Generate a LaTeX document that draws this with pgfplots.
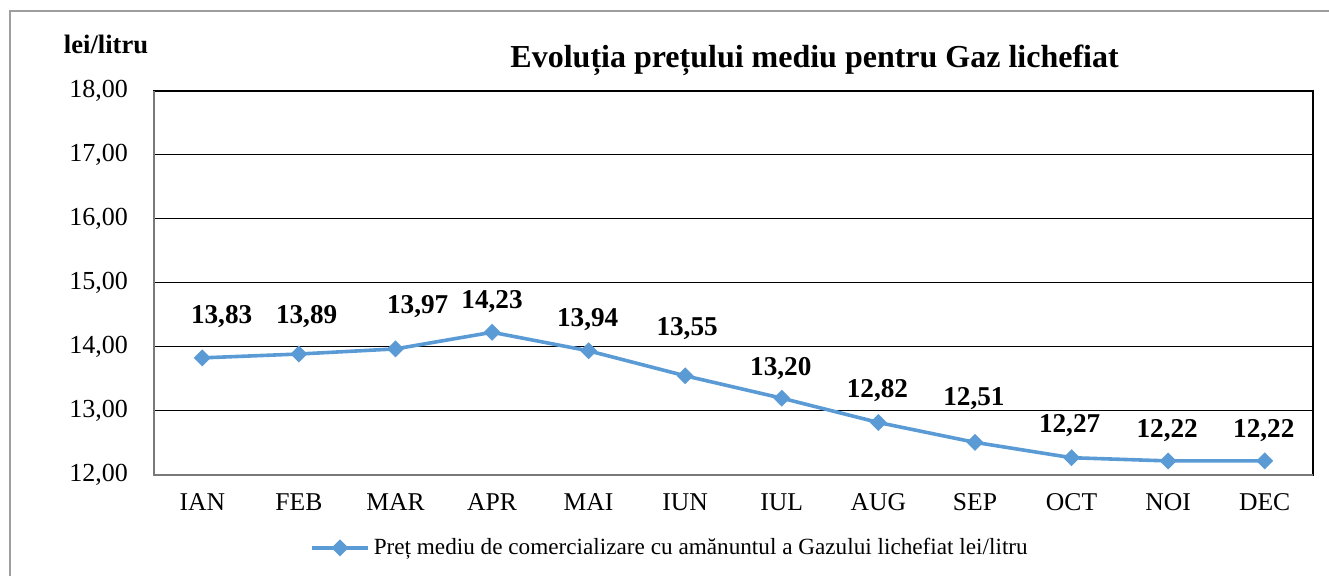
\documentclass[border=0pt]{standalone}
\usepackage{pgfplots}
\pgfplotsset{compat=1.18}
\usepackage{fontspec}
\setmainfont{Liberation Serif}
\definecolor{serieblue}{HTML}{5B9BD5}
\begin{document}
\begin{tikzpicture}
\begin{axis}[
  scale only axis,
  width=579.5pt, height=192pt,
  at={(0,0)}, anchor=south west,
  xmin=-0.5, xmax=11.5,
  ymin=12, ymax=18,
  xtick={0,...,11},
  xticklabels={IAN,FEB,MAR,APR,MAI,IUN,IUL,AUG,SEP,OCT,NOI,DEC},
  ytick={12,13,...,18},
  /pgf/number format/fixed,
  /pgf/number format/fixed zerofill,
  /pgf/number format/precision=2,
  /pgf/number format/use comma,
  /pgf/number format/assume math mode=true,
  yticklabel style={anchor=east, xshift=-9.5pt, font=\fontsize{13}{15}\selectfont},
  xticklabel style={anchor=center, yshift=-13.5pt, font=\fontsize{12.8}{15}\selectfont},
  major tick length=0pt,
  ymajorgrids,
  grid style={black, line width=0.5pt},
  axis line style={black, line width=0.6pt},
  clip=false,
  legend style={at={(0.446,-0.19)}, anchor=center, draw=none, fill=none,
    font=\fontsize{11.6}{13}\selectfont, inner sep=0pt},
  legend cell align=left,
  legend image code/.code={\draw[#1, mark repeat=2, mark phase=2] plot coordinates {(0pt,0pt) (14pt,0pt) (28pt,0pt)};},
]
\draw[gray!95!black, line width=1.1pt] (rel axis cs:0,1) -- (rel axis cs:0,0) -- (rel axis cs:1,0);
\addplot[color=serieblue, line width=1.8pt, mark=square*, mark size=2.1pt,
  mark options={rotate=45, solid, fill=serieblue}]
  coordinates {(0,13.83) (1,13.89) (2,13.97) (3,14.23) (4,13.94) (5,13.55)
               (6,13.20) (7,12.82) (8,12.51) (9,12.27) (10,12.22) (11,12.22)};
\addlegendentry{Preț mediu de comercializare cu amănuntul a Gazului lichefiat lei/litru}
\addplot[draw=none, mark=none, forget plot, nodes near coords, point meta=explicit symbolic,
  every node near coord/.append style={anchor=center, yshift=-0.8pt, font=\bfseries\fontsize{13.6}{15}\selectfont, inner sep=0pt}]
  table[x=lx, y=ly, meta=lab] {
lx ly lab
0.20 14.50 13,83
1.08 14.50 13,89
2.23 14.66 13,97
3.00 14.73 14,23
3.99 14.45 13,94
5.02 14.31 13,55
5.99 13.69 13,20
6.99 13.34 12,82
7.99 13.22 12,51
8.98 12.80 12,27
9.99 12.72 12,22
10.99 12.72 12,22
};
\node[font=\bfseries\fontsize{16}{18}\selectfont] at (rel axis cs:0.570,1.081) {Evoluția prețului mediu pentru Gaz lichefiat};
\node[font=\bfseries\fontsize{13.3}{15}\selectfont] at (rel axis cs:-0.0414,1.122) {lei/litru};
\end{axis}
\draw[black!38, line width=0.8pt] (-72pt,-60pt) -- (-72pt,232pt) -- (600pt,232pt);
\pgfresetboundingbox
\useasboundingbox (-77pt,-50.5pt) rectangle (587.5pt,237.5pt);
\end{tikzpicture}
\end{document}
